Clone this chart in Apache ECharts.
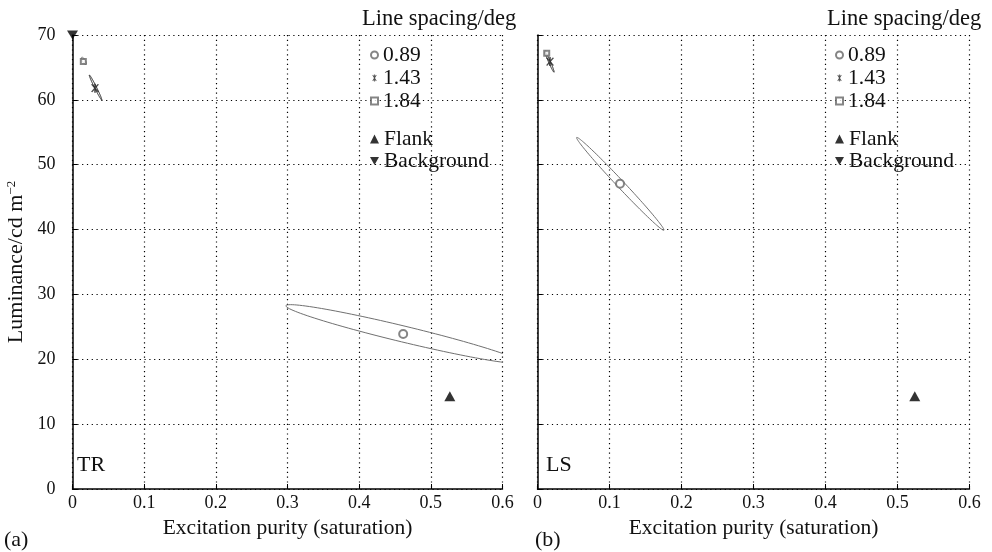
<!DOCTYPE html>
<html>
<head>
<meta charset="utf-8">
<script src="https://cdn.jsdelivr.net/npm/echarts@6/dist/echarts.min.js"></script>
<style>html,body{margin:0;padding:0;background:#fff}#c{width:992px;height:552px}</style>
</head>
<body>
<div id="c"></div>
<script>
// ---- data ----
const xRange = [0, 0.6];
const xStep = 0.1;
const yRange = [0, 70];
const yStep = 10;
const legendTitle = 'Line spacing/deg';
const spacingNames = ['0.89', '1.43', '1.84'];
const markNames = ['Flank', 'Background'];
const panelTags = ['TR', 'LS'];
const panelLetters = ['(a)', '(b)'];
const xName = 'Excitation purity (saturation)';

// Panel (a) TR
const trCircle = [[0.4614, 23.9]];
const trStar = [[0.0314, 61.8]];
const trSquare = [[0.0151, 65.9]];
const trFlank = [[0.5265, 14.3]];
const trBackground = [[0, 70]];
// ellipses: [centreX, centreY, majorEndX, majorEndY, conjugateEndX, conjugateEndY]
const trEllipses = [
  [0.4614, 23.9, 0.2978, 28.26, 0.4640, 25.1],
  [0.0322, 61.9, 0.0235, 63.83, 0.0334, 61.97],
  [0.0159, 66.02, 0.0129, 66.56, 0.01766, 66.14]
];

// Panel (b) LS
const lsCircle = [[0.1146, 47.07]];
const lsStar = [[0.0174, 65.9]];
const lsSquare = [[0.0128, 67.2]];
const lsFlank = [[0.524, 14.3]];
const lsEllipses = [
  [0.1150, 47.05, 0.0544, 54.2, 0.1186, 47.44],
  [0.0167, 65.85, 0.0104, 67.44, 0.0179, 65.90],
  [0.0128, 67.2, 0.0110, 67.55, 0.0140, 67.25]
];

// ---- styles ----
const ellipseColors = ['#707070', '#222', '#707070'];
const FONT = '"Liberation Serif", "Times New Roman", serif';
const starPath = 'path://M-0.12,-1L0.12,-1L0.12,1L-0.12,1Z M-0.604,-0.806L-0.396,-0.926L0.604,0.806L0.396,0.926Z M0.396,-0.926L0.604,-0.806L-0.396,0.926L-0.604,0.806Z';
const downTri = 'path://M0,0L2,0L1,1.8Z';

function renderEllipse(params, api) {
  const c = api.coord([api.value(0), api.value(1)]);
  const m = api.coord([api.value(2), api.value(3)]);
  const n = api.coord([api.value(4), api.value(5)]);
  const ux = m[0] - c[0], uy = m[1] - c[1];
  const vx = n[0] - c[0], vy = n[1] - c[1];
  const pts = [];
  const N = 120;
  for (let i = 0; i < N; i++) {
    const t = i / N * Math.PI * 2;
    pts.push([c[0] + ux * Math.cos(t) + vx * Math.sin(t), c[1] + uy * Math.cos(t) + vy * Math.sin(t)]);
  }
  return {
    type: 'polygon',
    shape: { points: pts },
    style: { fill: 'none', stroke: ellipseColors[params.dataIndex], lineWidth: 1 }
  };
}

const dotted = { color: '#000', width: 1.2, type: [1.2, 3.6] };

function xAxis(gi) {
  return {
    type: 'value', gridIndex: gi, min: xRange[0], max: xRange[1], interval: xStep,
    name: xName, nameLocation: 'middle', nameGap: 23,
    nameTextStyle: { fontFamily: FONT, fontSize: 21.5, color: '#111' },
    axisLine: { show: true, onZero: false, lineStyle: { color: '#000', width: 1.5 } },
    axisTick: { show: true, inside: true, length: 5, lineStyle: { color: '#000', width: 1 } },
    axisLabel: { fontFamily: FONT, fontSize: 18, color: '#111', margin: 5,
      formatter: v => (Math.abs(v) < 1e-9 ? '0' : v.toFixed(1)) },
    splitLine: { show: true, lineStyle: dotted }
  };
}
function yAxis(gi, withLabels) {
  const a = {
    type: 'value', gridIndex: gi, min: yRange[0], max: yRange[1], interval: yStep,
    axisLine: { show: true, onZero: false, lineStyle: { color: '#000', width: 1.5 } },
    axisTick: { show: true, inside: true, length: 5, lineStyle: { color: '#000', width: 1 } },
    axisLabel: { show: withLabels, fontFamily: FONT, fontSize: 18, color: '#111', margin: 17 },
    splitLine: { show: true, lineStyle: dotted }
  };
  if (withLabels) {
    a.name = 'Luminance/cd m{sup|\u22122}';
    a.nameLocation = 'middle';
    a.nameGap = 45;
    a.nameTextStyle = {
      fontFamily: FONT, fontSize: 22, color: '#111',
      rich: { sup: { fontFamily: FONT, fontSize: 13, color: '#111', verticalAlign: 'top', lineHeight: 22 } }
    };
  }
  return a;
}

function panelSeries(gi, ell, circ, star, sq, flank, bg) {
  const s = [
    { type: 'custom', xAxisIndex: gi, yAxisIndex: gi, renderItem: renderEllipse, clip: true,
      encode: { x: [0, 2, 4], y: [1, 3, 5] }, data: ell, silent: true, z: 2 },
    { name: '0.89', type: 'scatter', xAxisIndex: gi, yAxisIndex: gi, data: circ,
      symbol: 'emptyCircle', symbolSize: 8, itemStyle: { color: '#666', borderWidth: 1 }, z: 3 },
    { name: '1.43', type: 'scatter', xAxisIndex: gi, yAxisIndex: gi, data: star,
      symbol: starPath, symbolSize: [8, 9], itemStyle: { color: '#222' }, z: 3 },
    { name: '1.84', type: 'scatter', xAxisIndex: gi, yAxisIndex: gi, data: sq,
      symbol: 'emptyRect', symbolSize: 5, itemStyle: { color: '#666', borderWidth: 1 }, z: 3 },
    { name: 'Flank', type: 'scatter', xAxisIndex: gi, yAxisIndex: gi, data: flank,
      symbol: 'triangle', symbolSize: [11, 10], itemStyle: { color: '#000' }, z: 3 }
  ];
  if (bg) {
    s.push({ name: 'Background', type: 'scatter', xAxisIndex: gi, yAxisIndex: gi, data: bg, clip: false,
      symbol: downTri, symbolSize: [11, 9], itemStyle: { color: '#000' }, z: 4 });
  }
  return s;
}

function legends(left) {
  const ts = { fontFamily: FONT, fontSize: 21.5, color: '#111', lineHeight: 22 };
  return [
    { orient: 'vertical', left: left, top: 39, itemWidth: 7, itemHeight: 7, itemGap: 1,
      selectedMode: false, textStyle: ts,
      data: [
        { name: spacingNames[0], icon: 'emptyCircle' },
        { name: spacingNames[1], icon: starPath },
        { name: spacingNames[2], icon: 'emptyRect' }
      ] },
    { orient: 'vertical', left: left, top: 123, itemWidth: 9, itemHeight: 9, itemGap: 0,
      selectedMode: false, textStyle: ts,
      data: [
        { name: markNames[0], icon: 'triangle' },
        { name: markNames[1], icon: downTri }
      ] }
  ];
}

function txt(x, y, t, size) {
  return { type: 'text', x: x, y: y, silent: true,
    style: { text: t, font: size + 'px ' + FONT, fill: '#111', verticalAlign: 'middle', align: 'left' } };
}

const chart = echarts.init(document.getElementById('c'), null, { renderer: 'canvas' });
chart.setOption({
  backgroundColor: '#fff',
  animation: false,
  grid: [
    { left: 72.5, right: 489.5, top: 35, bottom: 63 },
    { left: 537.5, right: 22.5, top: 35, bottom: 63 }
  ],
  xAxis: [xAxis(0), xAxis(1)],
  yAxis: [yAxis(0, true), yAxis(1, false)],
  legend: legends(365).concat(legends(830)),
  series: panelSeries(0, trEllipses, trCircle, trStar, trSquare, trFlank, trBackground)
    .concat(panelSeries(1, lsEllipses, lsCircle, lsStar, lsSquare, lsFlank, null)),
  graphic: [
    txt(362, 19, legendTitle, 22.5),
    txt(827, 19, legendTitle, 22.5),
    txt(77, 465, panelTags[0], 22),
    txt(546, 465, panelTags[1], 22),
    txt(4, 540, panelLetters[0], 22),
    txt(535, 540, panelLetters[1], 22)
  ]
});
</script>
</body>
</html>
